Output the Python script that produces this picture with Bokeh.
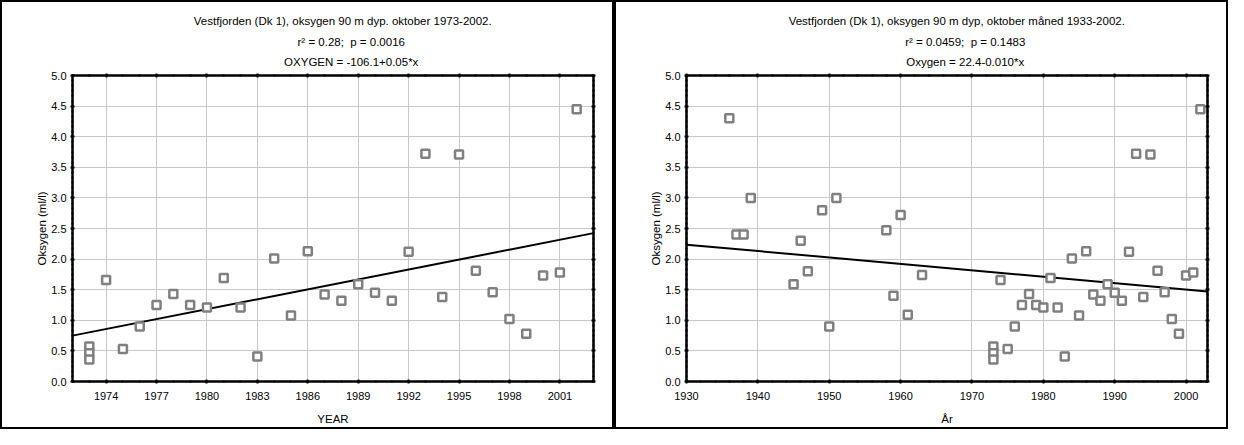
import numpy as np
from bokeh.plotting import figure
from bokeh.models import (LinearAxis, SingleIntervalTicker, Range1d, Grid,
                          ColumnDataSource, PrintfTickFormatter)
from bokeh.core.properties import value
from bokeh.layouts import row, column
from bokeh.embed import file_html
from bokeh.resources import INLINE

# ---------------- data ----------------
years_recent = [1973, 1973, 1973, 1974, 1975, 1976, 1977, 1978, 1979, 1980,
                1981, 1982, 1983, 1984, 1985, 1986, 1987, 1988, 1989, 1990,
                1991, 1992, 1993, 1994, 1995, 1996, 1997, 1998, 1999, 2000,
                2001, 2002]
oxygen_recent = [0.57, 0.46, 0.36, 1.66, 0.53, 0.90, 1.25, 1.43, 1.25, 1.21,
                 1.69, 1.21, 0.41, 2.01, 1.08, 2.13, 1.42, 1.32, 1.59, 1.45,
                 1.32, 2.12, 3.72, 1.38, 3.71, 1.81, 1.46, 1.02, 0.78, 1.73,
                 1.78, 4.45]
years_early = [1936, 1937, 1938, 1939, 1945, 1946, 1947, 1949, 1950, 1951,
               1958, 1959, 1960, 1961, 1963]
oxygen_early = [4.30, 2.40, 2.40, 3.00, 1.59, 2.30, 1.80, 2.80, 0.90, 3.00,
                2.47, 1.40, 2.72, 1.09, 1.74]

left_titles = ["Vestfjorden (Dk 1), oksygen 90 m dyp. oktober 1973-2002.",
               "r\u00b2 = 0.28;\u00a0 p = 0.0016",
               "OXYGEN = -106.1+0.05*x"]
right_titles = ["Vestfjorden (Dk 1), oksygen 90 m dyp, oktober m\u00e5ned 1933-2002.",
                "r\u00b2 = 0.0459;\u00a0 p = 0.1483",
                "Oxygen = 22.4-0.010*x"]

FONT = "Liberation Sans"
W = 614          # panel width
TH = 70          # title strip height
PH = 359         # plot height
ML, MR, MT, MB = 70, 23, 5, 48
TITLE_ROWS_FROM_TOP = [18, 39, 59]   # canvas pixels from the strip top
TITLE_SHIFT = [-12, -2, -2]          # horizontal shift from the frame centre
BORDER = "2px solid black"


def make_title_strip(titles):
    t = figure(width=W, height=TH, output_backend="svg", toolbar_location=None,
               x_range=Range1d(0, W), y_range=Range1d(0, TH), min_border=0,
               x_axis_location=None, y_axis_location=None,
               styles={"border-top": BORDER, "border-left": BORDER,
                       "border-right": BORDER})
    t.xgrid.visible = False
    t.ygrid.visible = False
    t.outline_line_color = None
    t.background_fill_color = "white"
    t.border_fill_color = "white"
    frame_cx = ML + (W - ML - MR) / 2
    t.text(x=[frame_cx + s for s in TITLE_SHIFT],
           y=[TH - r for r in TITLE_ROWS_FROM_TOP],
           text=titles, text_align="center", text_baseline="middle",
           text_font=value(FONT), text_font_size="11.5px", text_color="black")
    return t


def make_panel(xs, ys, xr, x_interval, x_minor, xlabel):
    p = figure(width=W, height=PH, output_backend="svg", toolbar_location=None,
               x_range=Range1d(*xr), y_range=Range1d(0, 5),
               min_border_left=ML, min_border_right=MR,
               min_border_top=MT, min_border_bottom=MB,
               x_axis_location=None, y_axis_location=None,
               styles={"border-bottom": BORDER, "border-left": BORDER,
                       "border-right": BORDER})
    p.background_fill_color = "white"
    p.border_fill_color = "white"
    p.outline_line_color = "black"
    p.outline_line_width = 2

    def mk_axis(interval, minor, side, labels, label_text=None):
        ax = LinearAxis(ticker=SingleIntervalTicker(interval=interval,
                                                    num_minor_ticks=minor))
        ax.axis_line_width = 2
        ax.axis_line_color = "black"
        ax.major_tick_line_width = 2
        ax.minor_tick_line_width = 2
        ax.major_tick_in = 2
        ax.major_tick_out = 2
        ax.minor_tick_in = 1
        ax.minor_tick_out = 1
        ax.major_label_text_font = FONT
        ax.major_label_text_font_size = "11px"
        ax.major_label_text_color = "black"
        if not labels:
            ax.major_label_text_color = None
            ax.major_label_text_font_size = "0px"
            ax.major_label_standoff = 0
        if label_text:
            ax.axis_label = label_text
            ax.axis_label_text_font = FONT
            ax.axis_label_text_font_size = "11.5px"
            ax.axis_label_text_font_style = "normal"
            ax.axis_label_text_color = "black"
        p.add_layout(ax, side)
        return ax

    xb = mk_axis(x_interval, x_minor, "below", True, xlabel)
    xb.major_label_standoff = 8
    xb.axis_label_standoff = 10
    yl = mk_axis(0.5, 6, "left", True, "Oksygen (ml/l)")
    yl.formatter = PrintfTickFormatter(format="%.1f")
    yl.major_label_standoff = 4
    yl.axis_label_standoff = 0
    mk_axis(x_interval, x_minor, "above", False)
    mk_axis(0.5, 6, "right", False)

    p.xgrid.visible = False
    p.ygrid.visible = False
    p.add_layout(Grid(dimension=0, ticker=xb.ticker, grid_line_color="#c8c8c8",
                      grid_line_width=1))
    p.add_layout(Grid(dimension=1, ticker=yl.ticker, grid_line_color="#c8c8c8",
                      grid_line_width=1))

    # least-squares regression line computed from the data
    slope, intercept = np.polyfit(np.array(xs, float), np.array(ys, float), 1)
    lx = np.array(xr, float)
    p.line(lx, intercept + slope * lx, line_color="black", line_width=2)

    src = ColumnDataSource(dict(x=xs, y=ys))
    p.scatter("x", "y", source=src, marker="square", size=8,
              line_color="#808080", line_width=2.5, fill_color="white")
    return p


left = column(make_title_strip(left_titles),
              make_panel(years_recent, oxygen_recent, (1972, 2003), 3, 3, "YEAR"),
              spacing=0)
right = column(make_title_strip(right_titles),
               make_panel(years_early + years_recent, oxygen_early + oxygen_recent,
                          (1930, 2003), 10, 5, "\u00c5r"),
               spacing=0)

layout = row(left, right, spacing=0)
open("out.html", "w").write(file_html(layout, INLINE))
